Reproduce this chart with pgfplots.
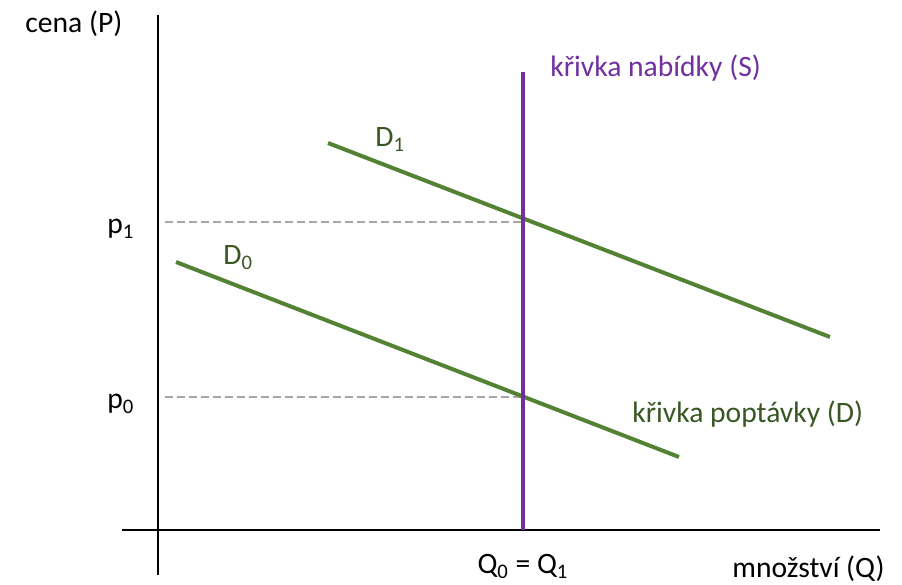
\documentclass[border=0pt]{standalone}
\usepackage{fontspec}
\setmainfont{Carlito}
\usepackage{pgfplots}
\pgfplotsset{compat=1.18}
\definecolor{dgreen}{RGB}{84,130,53}
\definecolor{tgreen}{RGB}{56,87,35}
\definecolor{spurple}{RGB}{112,48,160}
\definecolor{dashgray}{RGB}{166,166,166}
\tikzset{lbl/.style={font=\fontsize{14.8}{18}\selectfont, inner sep=0pt}}
\begin{document}
\begin{tikzpicture}
\begin{axis}[scale only axis, width=451pt, height=292.5pt,
  xmin=0, xmax=902, ymin=0, ymax=585,
  axis lines=none, clip=false]
% frame for bounding box
\addplot[draw=none] coordinates {(0,0) (902,585)};
% axes
\addplot[black, line width=1pt] coordinates {(158,570) (158,10)};
\addplot[black, line width=1pt] coordinates {(122,55) (880,55)};
% guide lines
\addplot[dashgray, line width=0.75pt, dash pattern=on 4pt off 2pt] coordinates {(165,363) (523,363)};
\addplot[dashgray, line width=0.75pt, dash pattern=on 4pt off 2pt] coordinates {(165,188) (523,188)};
% demand curves
\addplot[dgreen, line width=2pt] coordinates {(328,442) (830,248)};
\addplot[dgreen, line width=2pt] coordinates {(176,323) (679,128)};
% supply
\addplot[spurple, line width=2pt] coordinates {(523,513) (523,55)};
% labels
\node[lbl, anchor=base west] at (axis cs:25,552) {cena (P)};
\node[lbl, anchor=base west] at (axis cs:107,351) {p\textsubscript{1}};
\node[lbl, anchor=base west] at (axis cs:107,176) {p\textsubscript{0}};
\node[lbl, anchor=base west, text=tgreen] at (axis cs:375,438) {D\textsubscript{1}};
\node[lbl, anchor=base west, text=tgreen] at (axis cs:223,320) {D\textsubscript{0}};
\node[lbl, anchor=base west, text=spurple] at (axis cs:550,508) {křivka nabídky (S)};
\node[lbl, anchor=base west, text=tgreen] at (axis cs:632,162) {křivka poptávky (D)};
\node[lbl, anchor=base] at (axis cs:523,11) {Q\textsubscript{0} = Q\textsubscript{1}};
\node[lbl, anchor=base east] at (axis cs:885,7) {množství (Q)};
\end{axis}
\end{tikzpicture}
\end{document}
